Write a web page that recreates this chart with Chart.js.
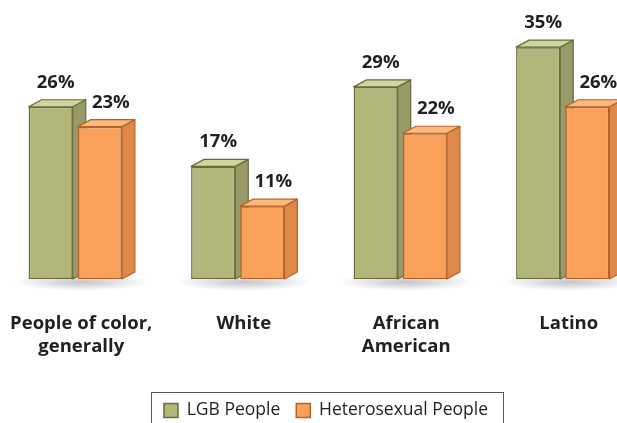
<!DOCTYPE html>
<html>
<head>
<meta charset="utf-8">
<script src="https://cdn.jsdelivr.net/npm/chart.js@4.4.0/dist/chart.umd.min.js"></script>
<style>
  html, body { margin: 0; padding: 0; background: #fff; overflow: hidden; }
  #wrap { position: absolute; left: -6px; top: 0; width: 650px; height: 440px; }
</style>
</head>
<body>
<div id="wrap"><canvas id="chartCanvas"></canvas></div>
<script>
// ------- data
const categories = [["People of color,", "generally"], "White", ["African", "American"], "Latino"];
const lgbValues = [26, 17, 29, 35];
const heteroValues = [23, 11, 22, 26];
const seriesNames = ["LGB People", "Heterosexual People"];

// ------- looks
const FONT = "'Open Sans', 'Noto Sans', sans-serif";
const INK = '#231f20';
const depth = { dx: 13, dy: 7 };
const looks = [
  { front: '#b3b67a', top: '#cfd59c', side: '#989b67', edge: '#686b3b', labelShift: 5 },
  { front: '#f9a05b', top: '#fbba7c', side: '#de8949', edge: '#b5622b', labelShift: 11 }
];

// fake 3D: floor shadow + side/top faces drawn before the flat fronts
const bar3d = {
  id: 'bar3d',
  afterLayout(chart) {
    // the legend in the original sits a bit right of centre
    chart.legend.left += 7;
    chart.legend.right += 7;
  },
  beforeDatasetsDraw(chart) {
    const ctx = chart.ctx;
    const base = chart.scales.y.getPixelForValue(0);
    const m0 = chart.getDatasetMeta(0), m1 = chart.getDatasetMeta(1);
    ctx.save();
    m0.data.forEach((b, i) => {
      const b2 = m1.data[i];
      const l = b.x - b.width / 2, r = b2.x + b2.width / 2 + depth.dx;
      const cx = (l + r) / 2, rx = (r - l) / 2 + 14;
      ctx.save();
      ctx.translate(cx, base + 3);
      ctx.scale(1, 0.13);
      const g = ctx.createRadialGradient(0, 0, 0, 0, 0, rx);
      g.addColorStop(0, 'rgba(90,90,100,0.35)');
      g.addColorStop(0.6, 'rgba(90,90,100,0.15)');
      g.addColorStop(1, 'rgba(90,90,100,0)');
      ctx.fillStyle = g;
      ctx.beginPath(); ctx.arc(0, 0, rx, 0, Math.PI * 2); ctx.fill();
      ctx.restore();
    });
    ctx.lineWidth = 1.2;
    ctx.lineJoin = 'round';
    chart.data.datasets.forEach((ds, di) => {
      const look = looks[di];
      chart.getDatasetMeta(di).data.forEach(b => {
        const l = b.x - b.width / 2, r = b.x + b.width / 2, t = b.y, bt = b.base;
        ctx.strokeStyle = look.edge;
        // side
        ctx.beginPath();
        ctx.moveTo(r, bt); ctx.lineTo(r + depth.dx, bt - depth.dy);
        ctx.lineTo(r + depth.dx, t - depth.dy); ctx.lineTo(r, t); ctx.closePath();
        ctx.fillStyle = look.side; ctx.fill(); ctx.stroke();
        // top
        ctx.beginPath();
        ctx.moveTo(l, t); ctx.lineTo(l + depth.dx, t - depth.dy);
        ctx.lineTo(r + depth.dx, t - depth.dy); ctx.lineTo(r, t); ctx.closePath();
        ctx.fillStyle = look.top; ctx.fill(); ctx.stroke();
      });
    });
    ctx.restore();
  },
  afterDatasetsDraw(chart) {
    const ctx = chart.ctx;
    ctx.save();
    ctx.font = `bold 18.5px ${FONT}`;
    ctx.fillStyle = INK;
    ctx.textAlign = 'center';
    ctx.textBaseline = 'alphabetic';
    chart.data.datasets.forEach((ds, di) => {
      chart.getDatasetMeta(di).data.forEach((b, i) => {
        ctx.fillText(ds.data[i] + '%', b.x + looks[di].labelShift, b.y - depth.dy - 12);
      });
    });
    ctx.restore();
  },
  afterDraw(chart) {
    // frame round the legend, open at the bottom edge of the page
    const hb = chart.legend.legendHitBoxes;
    if (!hb || !hb.length) return;
    const ctx = chart.ctx;
    const last = hb[hb.length - 1];
    const l = Math.round(hb[0].left - 13) + 0.5;
    const r = Math.round(last.left + last.width + 15) + 0.5;
    const t = Math.round(hb[0].top + hb[0].height / 2 - 18.5) + 0.5;
    ctx.save();
    ctx.strokeStyle = '#555';
    ctx.lineWidth = 1;
    ctx.strokeRect(l, t, r - l, 80);
    ctx.restore();
  }
};

const chart = new Chart(document.getElementById('chartCanvas'), {
  type: 'bar',
  data: {
    labels: categories,
    datasets: [lgbValues, heteroValues].map((vals, i) => ({
      label: seriesNames[i],
      data: vals,
      backgroundColor: looks[i].front,
      borderColor: looks[i].edge,
      borderWidth: 1.5,
      borderSkipped: false,
      barPercentage: 0.898,
      categoryPercentage: 0.605
    }))
  },
  options: {
    responsive: true,
    maintainAspectRatio: false,
    animation: false,
    layout: { padding: { top: 14, left: 0, right: 0, bottom: 10.75 } },
    scales: {
      x: {
        grid: { display: false },
        border: { display: false },
        ticks: {
          color: INK,
          padding: 26,
          labelOffset: 6,
          maxRotation: 0,
          autoSkip: false,
          font: { family: FONT, size: 18.5, weight: 'bold', lineHeight: 1.2 }
        },
        afterFit(scale) {
          scale.height = 106.75;
          scale.paddingLeft = 0;
          scale.paddingRight = 0;
        }
      },
      y: { display: false, min: 0, max: 40 }
    },
    plugins: {
      tooltip: { enabled: false },
      legend: {
        position: 'bottom',
        labels: {
          color: INK,
          boxWidth: 14,
          boxHeight: 14,
          padding: 16,
          font: { family: FONT, size: 17.5 }
        }
      }
    }
  },
  plugins: [bar3d]
});
</script>
</body>
</html>
